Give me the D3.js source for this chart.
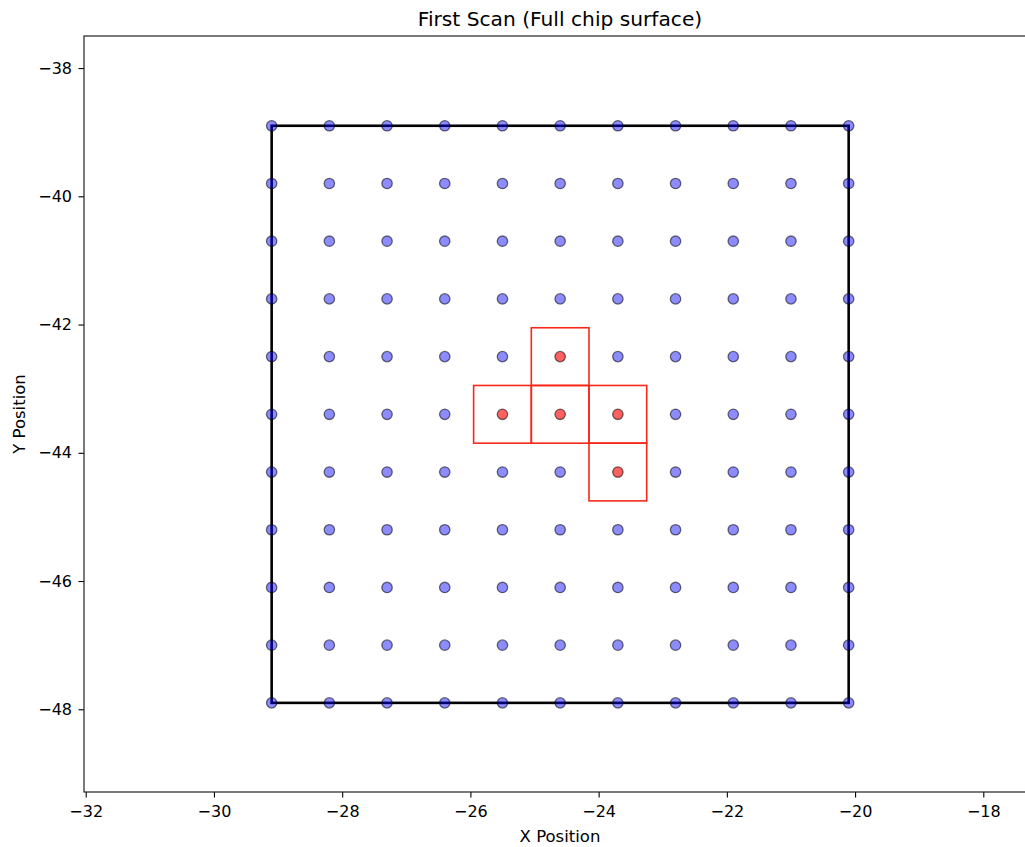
<!DOCTYPE html>
<html><head><meta charset="utf-8">
<script src="https://cdn.jsdelivr.net/npm/d3@7"></script>
<style>
html,body{margin:0;padding:0;background:#fff;}
svg text{font-family:"DejaVu Sans",sans-serif;fill:#000;}
</style></head>
<body>
<svg id="chart" width="1025" height="847"></svg>
<script>
// Data
const gridX = [-29.1, -28.2, -27.3, -26.4, -25.5, -24.6, -23.7, -22.8, -21.9, -21.0, -20.1];
const gridY = [-38.9, -39.8, -40.7, -41.6, -42.5, -43.4, -44.3, -45.2, -46.1, -47.0, -47.9];
const hotX = [-24.6, -25.5, -24.6, -23.7, -23.7];
const hotY = [-42.5, -43.4, -43.4, -43.4, -44.3];
const cellSize = 0.9;
const chipX = [-29.1, -20.1];
const chipY = [-47.9, -38.9];
const xTicks = [-32, -30, -28, -26, -24, -22, -20, -18];
const yTicks = [-38, -40, -42, -44, -46, -48];
const xDomain = [-32.027, -17.178];
const yDomain = [-49.29, -37.50];

const L = 84, R = 1036, T = 36, B = 792;
const svg = d3.select("#chart");
const x = d3.scaleLinear().domain(xDomain).range([L, R]);
const y = d3.scaleLinear().domain(yDomain).range([B, T]);

const isHot = (px, py) => hotX.some((hx, i) => Math.abs(hx - px) < 1e-6 && Math.abs(hotY[i] - py) < 1e-6);

const pts = [];
gridY.forEach(gy => gridX.forEach(gx => pts.push({x: gx, y: gy, hot: isHot(gx, gy)})));

const plot = svg.append("g");
// chip boundary
plot.append("rect")
  .attr("x", x(chipX[0])).attr("y", y(chipY[1]))
  .attr("width", x(chipX[1]) - x(chipX[0]))
  .attr("height", y(chipY[0]) - y(chipY[1]))
  .attr("fill", "none").attr("stroke", "#000").attr("stroke-width", 2.6);

// points
plot.selectAll("circle.pt").data(pts).join("circle")
  .attr("class", "pt")
  .attr("cx", d => x(d.x)).attr("cy", d => y(d.y)).attr("r", 5.2)
  .attr("fill", d => d.hot ? "rgba(255,0,0,0.62)" : "rgba(0,0,255,0.45)")
  .attr("stroke", "rgba(0,0,0,0.55)").attr("stroke-width", 1.3);

// highlight squares
plot.selectAll("rect.cell").data(hotX.map((hx, i) => ({x: hx, y: hotY[i]}))).join("rect")
  .attr("class", "cell")
  .attr("x", d => x(d.x - cellSize / 2)).attr("y", d => y(d.y + cellSize / 2))
  .attr("width", d => x(d.x + cellSize / 2) - x(d.x - cellSize / 2))
  .attr("height", d => y(d.y - cellSize / 2) - y(d.y + cellSize / 2))
  .attr("fill", "none").attr("stroke", "rgb(248,40,25)").attr("stroke-width", 1.6);

// axes
const fmt = d => d < 0 ? "\u2212" + Math.abs(d) : String(d);
const xAxis = svg.append("g").attr("transform", `translate(0,${B})`)
  .call(d3.axisBottom(x).tickValues(xTicks).tickFormat(fmt).tickSizeOuter(0).tickSize(5.5).tickPadding(8));
const yAxis = svg.append("g").attr("transform", `translate(${L},0)`)
  .call(d3.axisLeft(y).tickValues(yTicks).tickFormat(fmt).tickSizeOuter(0).tickSize(5.5).tickPadding(6.5));
[xAxis, yAxis].forEach(a => {
  a.selectAll("text").attr("font-size", 16).attr("font-family", "DejaVu Sans");
  a.selectAll(".tick line").attr("stroke", "#000").attr("stroke-width", 1.1);
  a.select(".domain").remove();
});
// spines
svg.append("rect").attr("x", L).attr("y", T).attr("width", R - L).attr("height", B - T)
  .attr("fill", "none").attr("stroke", "#222").attr("stroke-width", 1.2);

// labels
svg.append("text").attr("x", (L + R) / 2).attr("y", 26).attr("text-anchor", "middle")
  .attr("font-size", 20.2).text("First Scan (Full chip surface)");
svg.append("text").attr("x", (L + R) / 2).attr("y", 842).attr("text-anchor", "middle")
  .attr("font-size", 16.5).text("X Position");
svg.append("text").attr("transform", `translate(25,${(T + B) / 2}) rotate(-90)`)
  .attr("text-anchor", "middle").attr("font-size", 16.5).text("Y Position");
</script>
</body></html>
